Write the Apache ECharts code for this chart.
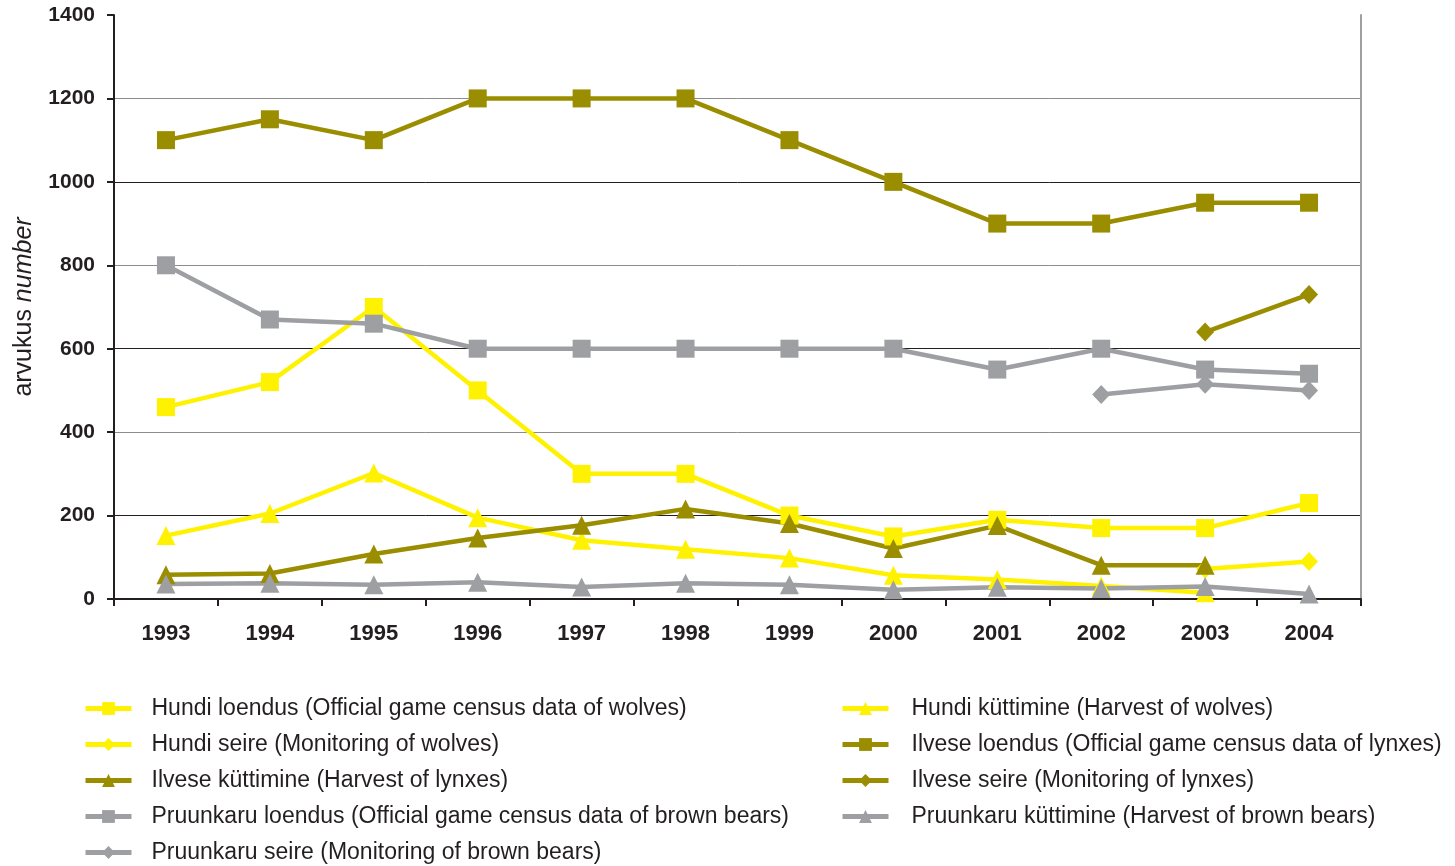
<!DOCTYPE html>
<html>
<head>
<meta charset="utf-8">
<script src="https://cdn.jsdelivr.net/npm/echarts@6/dist/echarts.min.js"></script>
<style>
  html, body { margin: 0; padding: 0; background: #fff; }
  #chart { width: 1455px; height: 866px; }
</style>
</head>
<body>
<div id="chart"></div>
<script>
const years = ['1993', '1994', '1995', '1996', '1997', '1998', '1999', '2000', '2001', '2002', '2003', '2004'];

// wolves
const hundiLoendus   = [460, 520, 700, 500, 300, 300, 200, 150, 190, 170, 170, 230];
const hundiKuttimine = [152, 205, 302, 195, 141, 119, 98, 57, 47, 31, 15, null];
const hundiSeire     = [null, null, null, null, null, null, null, null, null, null, 72, 90];
// lynxes
const ilveseLoendus   = [1100, 1150, 1100, 1200, 1200, 1200, 1100, 1000, 900, 900, 950, 950];
const ilveseKuttimine = [58, 61, 108, 146, 177, 216, 181, 121, 176, 81, 81, null];
const ilveseSeire     = [null, null, null, null, null, null, null, null, null, null, 640, 730];
// brown bears
const karuLoendus   = [800, 670, 660, 600, 600, 600, 600, 600, 550, 600, 550, 540];
const karuKuttimine = [36, 38, 34, 40, 29, 38, 34, 22, 28, 25, 30, 12];
const karuSeire     = [null, null, null, null, null, null, null, null, null, 490, 515, 500];

const YELLOW = '#fff200';
const OLIVE = '#9a8d00';
const GRAY = '#9d9fa2';
const TEXT = '#231f20';
const FONT = 'Liberation Sans, Arial, sans-serif';

function line(name, data, color, symbol, size) {
    return {
        name: name,
        type: 'line',
        data: data,
        symbol: symbol,
        symbolSize: size,
        showAllSymbol: true,
        connectNulls: false,
        lineStyle: { color: color, width: 4.5 },
        itemStyle: { color: color },
        emphasis: { disabled: true }
    };
}

const series = [
    line('Hundi loendus (Official game census data of wolves)', hundiLoendus, YELLOW, 'rect', 18),
    line('Hundi küttimine (Harvest of wolves)', hundiKuttimine, YELLOW, 'triangle', 19),
    line('Hundi seire (Monitoring of wolves)', hundiSeire, YELLOW, 'diamond', [18, 19]),
    line('Ilvese loendus (Official game census data of lynxes)', ilveseLoendus, OLIVE, 'rect', 18),
    line('Ilvese küttimine (Harvest of lynxes)', ilveseKuttimine, OLIVE, 'triangle', 19),
    line('Ilvese seire (Monitoring of lynxes)', ilveseSeire, OLIVE, 'diamond', [18, 19]),
    line('Pruunkaru loendus (Official game census data of brown bears)', karuLoendus, GRAY, 'rect', 18),
    line('Pruunkaru küttimine (Harvest of brown bears)', karuKuttimine, GRAY, 'triangle', 19),
    line('Pruunkaru seire (Monitoring of brown bears)', karuSeire, GRAY, 'diamond', [18, 19])
];

const names = series.map(s => s.name);

function legendCol(left, textPad, data) {
    return {
        orient: 'vertical',
        left: left,
        top: 697,
        height: 169,
        padding: 0,
        itemWidth: 46,
        itemHeight: 16,
        itemGap: 13,
        lineStyle: { width: 5 },
        textStyle: {
            fontFamily: FONT,
            fontSize: 23,
            color: TEXT,
            lineHeight: 22,
            padding: [0, 0, 0, textPad]
        },
        selectedMode: false,
        data: data
    };
}

const chart = echarts.init(document.getElementById('chart'));
chart.setOption({
    animation: false,
    grid: { left: 114, right: 94, top: 15, bottom: 267 },
    legend: [
        legendCol(83, 15, names.filter((n, i) => i % 2 === 0)),
        legendCol(840, 18, names.filter((n, i) => i % 2 === 1))
    ],
    xAxis: {
        type: 'category',
        data: years,
        boundaryGap: true,
        axisLine: { lineStyle: { color: TEXT, width: 2 } },
        axisTick: { show: true, length: 7, lineStyle: { color: TEXT, width: 2 } },
        axisLabel: {
            margin: 24,
            color: TEXT,
            fontFamily: FONT,
            fontWeight: 'bold',
            fontSize: 22
        }
    },
    yAxis: [{
        type: 'value',
        min: 0,
        max: 1400,
        interval: 200,
        name: '{a|arvukus }{b|number}',
        nameLocation: 'middle',
        nameRotate: 90,
        nameGap: 77,
        nameTextStyle: {
            rich: {
                a: { fontFamily: FONT, fontSize: 25, color: TEXT },
                b: { fontFamily: FONT, fontStyle: 'italic', fontSize: 25, color: TEXT }
            }
        },
        axisLine: { show: true, lineStyle: { color: TEXT, width: 2 } },
        axisTick: { show: true, length: 7, lineStyle: { color: TEXT, width: 2 } },
        axisLabel: {
            margin: 19,
            color: TEXT,
            fontFamily: FONT,
            fontWeight: 'bold',
            fontSize: 21,
            formatter: v => String(v)
        },
        splitLine: {
            show: true,
            showMaxLine: false,
            lineStyle: {
                width: 1,
                color: ['#231f20', '#231f20', '#8c8c8c', '#231f20', '#8c8c8c', '#231f20', '#8c8c8c', 'rgba(0,0,0,0)']
            }
        }
    }, {
        type: 'value',
        position: 'right',
        min: 0,
        max: 1400,
        interval: 200,
        axisLine: { show: true, lineStyle: { color: '#9d9fa2', width: 2 } },
        axisTick: { show: false },
        axisLabel: { show: false },
        splitLine: { show: false }
    }],
    series: series
});
</script>
</body>
</html>
